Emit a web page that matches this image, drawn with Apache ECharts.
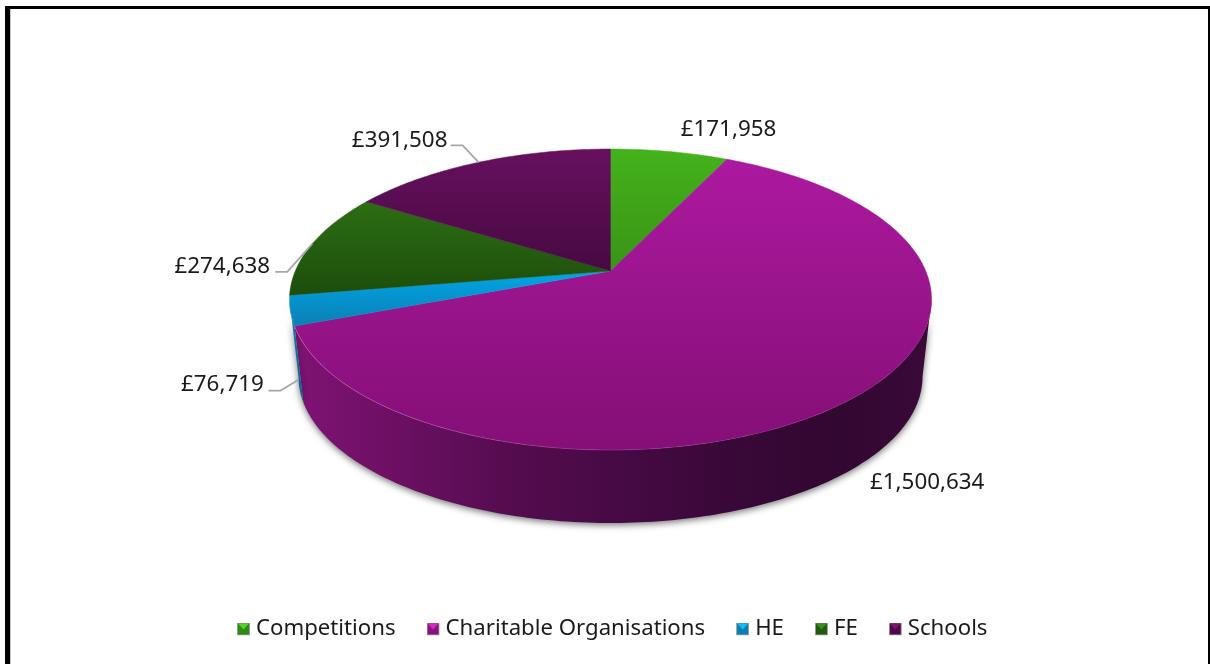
<!DOCTYPE html>
<html>
<head>
<meta charset="utf-8">
<style>html,body{margin:0;padding:0;background:#fff}#chart{width:1210px;height:664px}</style>
<script src="https://cdn.jsdelivr.net/npm/echarts@6/dist/echarts.min.js"></script>
</head>
<body>
<div id="chart"></div>
<script>
// Funding by sector, drawn as a perspective 3D pie.
const categories = ['Competitions', 'Charitable Organisations', 'HE', 'FE', 'Schools'];
const amounts = [171958, 1500634, 76719, 274638, 391508];

const FONT = '"Noto Sans", sans-serif';
const total = amounts.reduce((a, b) => a + b, 0);

// Disc projection: the unit circle goes through a homography, so the hub sits
// above the centre of the drawn ellipse, as it does under a real camera.
const disc = { hubX: 610.5, hubY: 271, a: 315.2, b: 145.1, c: -0.1894, wallScale: 0.972, wallDrop: 78 };

function project(deg, onBase) {
  const t = deg * Math.PI / 180;
  const u = Math.sin(t), v = -Math.cos(t);
  const den = 1 + disc.c * v;
  let x = disc.a * u / den, y = disc.b * v / den;
  if (onBase) { x *= disc.wallScale; y = y * disc.wallScale + disc.wallDrop; }
  return [disc.hubX + x, disc.hubY + y];
}

function arc(from, to, onBase) {
  const n = Math.max(2, Math.ceil(Math.abs(to - from)));
  const pts = [];
  for (let i = 0; i <= n; i++) pts.push(project(from + (to - from) * i / n, onBase));
  return pts;
}

// Slice colours: top-face gradient ends, and side-wall gradient stops.
const topShades = [
  ['#45b21b', '#389416'], ['#ac199f', '#840f76'], ['#00a6e6', '#0b7fb4'],
  ['#2d6e13', '#1c4d0c'], ['#67105e', '#470942']
];
const wallShades = [
  null,
  [[0, '#7f1374'], [0.17, '#6b0f62'], [0.33, '#560c50'], [0.5, '#470a45'], [0.68, '#390838'], [0.85, '#320730'], [1, '#3a0939']],
  [[0, '#0c7fb4'], [1, '#0a5f8c']],
  null, null
];

// Where each value label sits relative to the rim point at its slice's middle.
const labelPlacement = [
  { dx: 59, dy: -22 },
  { dx: 69, dy: 87 },
  { dx: -76, dy: 5, elbow: [-18, 11], tail: [-30, 11], wallShare: 0.9 },
  { dx: -90, dy: 23, elbow: [-25, 28], tail: [-37, 28] },
  { dx: -79, dy: -22, elbow: [-16, -17], tail: [-28, -17] }
];

const wallFrom = Math.acos(disc.c) * 180 / Math.PI;
const wallTo = 360 - wallFrom;

function sliceItem(idx, value) {
  const before = amounts.slice(0, idx).reduce((a, b) => a + b, 0);
  const start = before / total * 360;
  const end = start + value / total * 360;
  const mid = (start + end) / 2;
  const children = [];

  // Side wall, only where it faces the viewer.
  const wStart = Math.max(start, wallFrom), wEnd = Math.min(end, wallTo);
  if (wallShades[idx] && wEnd > wStart) {
    const grad = new echarts.graphic.LinearGradient(0, 0, 1, 0, wallShades[idx].map(s => ({ offset: s[0], color: s[1] })));
    children.push({
      type: 'polygon', z2: 1,
      shape: { points: arc(wStart, wEnd, false).concat(arc(wEnd, wStart, true)) },
      style: { fill: grad, shadowBlur: 7, shadowColor: 'rgba(0,0,0,0.55)', shadowOffsetY: 2 }
    });
    // Faint highlight where the top face meets the wall, strongest on the lit side.
    children.push({
      type: 'polyline', z2: 4,
      shape: { points: arc(wStart, wEnd, false) },
      style: {
        fill: null, lineWidth: 1,
        stroke: new echarts.graphic.LinearGradient(0, 0, 1, 0, [
          { offset: 0, color: 'rgba(255,190,245,0.30)' },
          { offset: 0.55, color: 'rgba(255,190,245,0.10)' },
          { offset: 1, color: 'rgba(255,190,245,0)' }
        ])
      }
    });
  }

  // Top face.
  const topFill = new echarts.graphic.LinearGradient(0, 0, 0, 1, [
    { offset: 0, color: topShades[idx][0] }, { offset: 1, color: topShades[idx][1] }
  ]);
  children.push({
    type: 'polygon', z2: 3,
    shape: { points: [[disc.hubX, disc.hubY]].concat(arc(start, end, false)) },
    style: { fill: topFill, stroke: topFill, lineWidth: 0.5 }
  });

  // Value label, with a leader line for the ones that carry one.
  const place = labelPlacement[idx];
  let anchor = project(mid, false);
  if (place.wallShare) {
    const base = project(mid, true);
    anchor = [anchor[0] + (base[0] - anchor[0]) * place.wallShare, anchor[1] + (base[1] - anchor[1]) * place.wallShare];
  }
  if (place.elbow) {
    children.push({
      type: 'polyline', z2: 5,
      shape: { points: [
        [anchor[0] + place.tail[0], anchor[1] + place.tail[1]],
        [anchor[0] + place.elbow[0], anchor[1] + place.elbow[1]],
        anchor
      ] },
      style: { fill: null, stroke: '#a6a6a6', lineWidth: 1.8 }
    });
  }
  children.push({
    type: 'text', z2: 6,
    x: anchor[0] + place.dx, y: anchor[1] + place.dy,
    style: {
      text: '£' + value.toLocaleString('en-GB'),
      font: '22.4px ' + FONT, fill: '#1a1a1a', align: 'center', verticalAlign: 'middle'
    }
  });
  return { type: 'group', children };
}

// Bevelled square used as the legend key.
function keyIcon(dark, light) {
  const svg = '<svg xmlns="http://www.w3.org/2000/svg" width="13" height="13">' +
    '<rect x="0.5" y="0.5" width="12" height="12" fill="' + dark + '" stroke="#9a9a9a"/>' +
    '<path d="M1 1H12L6.5 7Z" fill="' + light + '"/></svg>';
  return 'image://data:image/svg+xml,' + encodeURIComponent(svg);
}
const keyColours = [['#2f8a14', '#56d02a'], ['#8a1280', '#d22ac4'], ['#0a7fb4', '#14bdf5'], ['#205a0e', '#3c8c1c'], ['#4e0a48', '#7a1670']];

const frame = [
  { x: 5, y: 6, w: 1205, h: 3, c: '#000' },
  { x: 5, y: 6, w: 5, h: 658, c: '#000' },
  { x: 1208, y: 6, w: 2, h: 658, c: '#000' },
  { x: 10, y: 9, w: 1, h: 655, c: '#c4c4c4' }
];

const chart = echarts.init(document.getElementById('chart'));
chart.setOption({
  animation: false,
  backgroundColor: '#fff',
  graphic: frame.map(r => ({
    type: 'rect', silent: true, shape: { x: r.x, y: r.y, width: r.w, height: r.h }, style: { fill: r.c }
  })),
  legend: {
    left: 232, top: 613, itemWidth: 13, itemHeight: 13, itemGap: 31, selectedMode: false,
    textStyle: { fontFamily: FONT, fontSize: 22.2, color: '#1a1a1a', padding: [0, 0, 0, 1] },
    data: categories.map((name, i) => ({ name, icon: keyIcon(keyColours[i][0], keyColours[i][1]) }))
  },
  series: categories.map((name, i) => ({
    type: 'custom', name, coordinateSystem: 'none', silent: true,
    itemStyle: { color: topShades[i][0] },
    data: [[amounts[i]]],
    renderItem: (params, api) => sliceItem(i, api.value(0))
  }))
});
</script>
</body>
</html>
